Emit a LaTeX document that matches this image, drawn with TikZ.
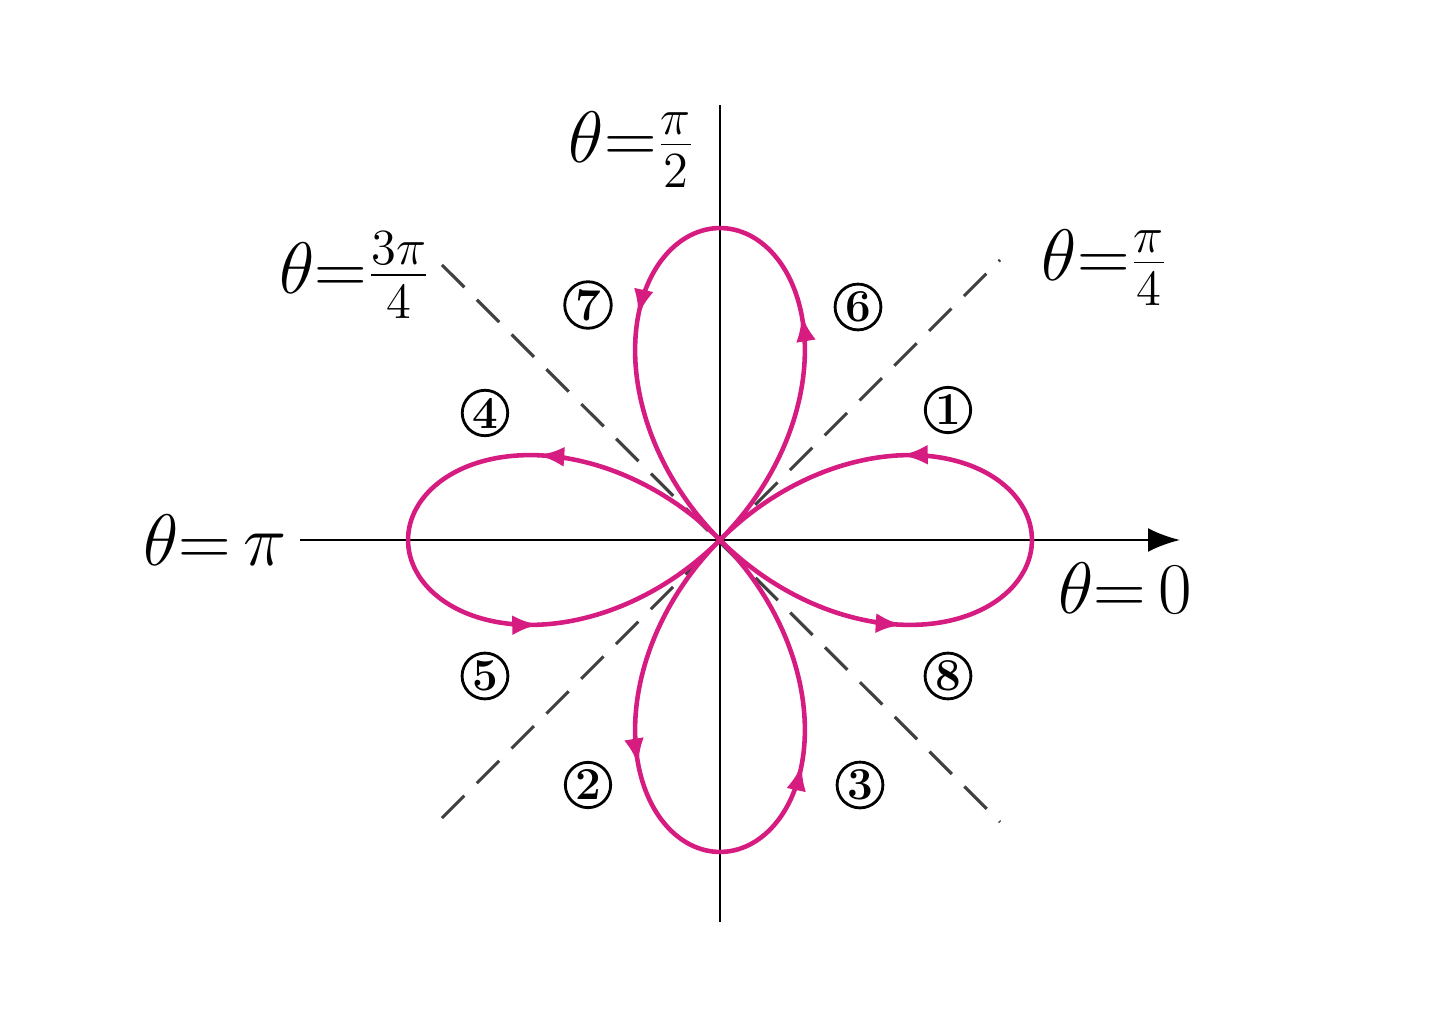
\documentclass[tikz,border=0pt]{standalone}
\usetikzlibrary{arrows.meta}
\definecolor{rose}{RGB}{214,28,128}
\tikzset{
 lbl/.style={font=\fontsize{21}{25}\selectfont},
 num/.style={circle,draw,line width=0.8pt,inner sep=0.6pt,minimum size=0.3cm,font=\fontsize{13}{15}\selectfont\bfseries},
 curve/.style={rose,line width=1.3pt},
 tip/.style={rose,line width=1.3pt,-{Latex[length=0.26cm,width=0.2cm]}},
}
\begin{document}
\begin{tikzpicture}
\useasboundingbox (-7.2,-4.76) rectangle (7.2,5.4);
\coordinate (O) at (0,0);
\coordinate (xl) at (-4.2,0); \coordinate (xr) at (4.6,0);
\coordinate (yt) at (0,4.35); \coordinate (yb) at (0,-3.82);
\draw[line width=0.8pt] (xl) -- (O);
\draw[line width=0.8pt,-{Latex[length=0.32cm,width=0.24cm]}] (O) -- (xr);
\draw[line width=0.8pt] (yb) -- (yt);
\coordinate (d1) at (2.8,2.8); \coordinate (d3) at (-2.78,2.75);
\coordinate (d5) at (-2.78,-2.78); \coordinate (d7) at (2.8,-2.82);
\draw[dash pattern=on 9pt off 5pt,line width=0.9pt,black!75] (d3) -- (d7);
\draw[dash pattern=on 9pt off 5pt,line width=0.9pt,black!75] (d5) -- (d1);
\draw[curve] plot[domain=0:360,samples=240,smooth] ({3.12*cos(2*\x)*cos(\x)},{3.12*cos(2*\x)*sin(\x)}) -- cycle;
\foreach \a in {25,70,110,155,205,250,290,335}{
 \draw[tip] plot[domain=\a-3:\a,samples=4] ({3.12*cos(2*\x)*cos(\x)},{3.12*cos(2*\x)*sin(\x)});
}
\node[lbl] (tpi) at (-5.05,0) {$\theta{=}\,\pi$};
\node[lbl] (t0) at (4.05,-0.48) {$\theta{=}\,0$};
\node[lbl] (tp2) at (-0.88,3.9) {$\theta{=}\frac{\pi}{2}$};
\node[lbl] (t3p4) at (-3.65,2.65) {$\theta{=}\frac{3\pi}{4}$};
\node[lbl] (tp4) at (3.85,2.72) {$\theta{=}\frac{\pi}{4}$};
\node[num] (n1) at (2.28,1.3) {1};
\node[num] (n6) at (1.38,2.33) {6};
\node[num] (n7) at (-1.32,2.35) {7};
\node[num] (n4) at (-2.35,1.27) {4};
\node[num] (n5) at (-2.35,-1.36) {5};
\node[num] (n2) at (-1.32,-2.45) {2};
\node[num] (n3) at (1.4,-2.45) {3};
\node[num] (n8) at (2.28,-1.36) {8};
\end{tikzpicture}
\end{document}
